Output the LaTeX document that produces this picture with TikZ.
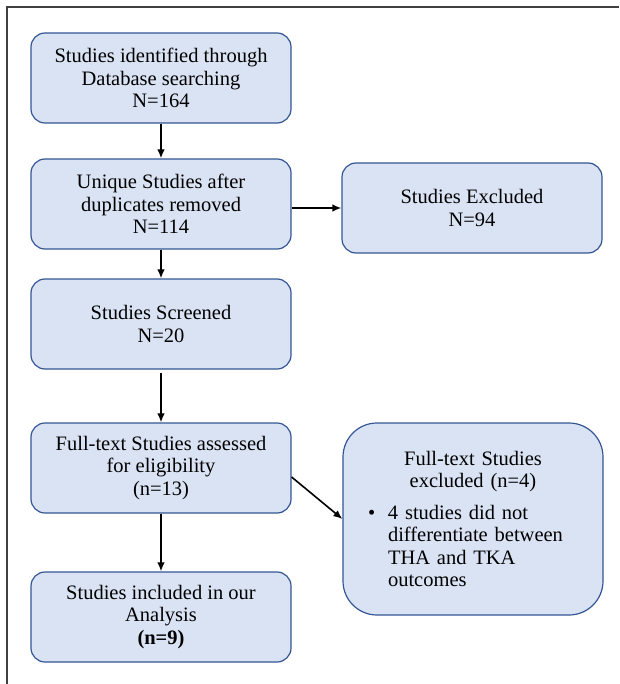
\documentclass[tikz,border=0pt]{standalone}
\usepackage{fontspec}
\setmainfont{Liberation Serif}
\usetikzlibrary{positioning,arrows.meta}

\definecolor{boxfill}{RGB}{218,227,243}
\definecolor{boxline}{RGB}{52,86,148}

\begin{document}
\begin{tikzpicture}[x=1pt, y=-1pt, >={Latex[length=9pt,width=7.5pt]},
        box/.style={draw=boxline, fill=boxfill, line width=1.2pt,
                    rounded corners=14pt, align=center,
                    minimum width=260pt, minimum height=90pt,
                    font=\fontsize{20.5}{22.5}\selectfont},
        flow/.style={->, line width=1.6pt}]
    \useasboundingbox (0,0) rectangle (619,684);
    % frame
    \draw[black!75, line width=1.5pt] (7,684) -- (7,7) -- (619,7);

    \node[box] (ident) at (161,78)  {Studies identified through\\Database searching\\N=164};
    \node[box] (uniq)  at (161,204) {Unique Studies after\\duplicates removed\\N=114};
    \node[box] (excl)  at (472,208) {Studies Excluded\\N=94};
    \node[box] (scr)   at (161,324) {Studies Screened\\N=20};
    \node[box] (full)  at (161,468) {Full-text Studies assessed\\for eligibility\\(n=13)};
    \node[box, rounded corners=34pt, minimum height=192pt,
          text width=210pt, inner xsep=25pt, align=left]
        (ftexcl) at (473,519)
        {{\centering Full-text Studies\\excluded (n=4)\par}
         \vspace{9pt}
         {\leftskip=20pt\noindent\hspace*{-20pt}\makebox[20pt][l]{\textbullet}4 studies did not\\
          differentiate between\\THA and TKA\\outcomes\par}};
    \node[box] (incl)  at (161,617) {Studies included in our\\Analysis\\\textbf{(n=9)}};

    \draw[flow] (ident) -- (uniq);
    \draw[flow] (uniq.east |- excl.west) -- (excl.west);
    \draw[flow] (uniq) -- (scr);
    \draw[flow] ([yshift=-3pt]scr.south) -- (full.north);
    \draw[flow] ([yshift=-9pt]full.east) -- (ftexcl.west);
    \draw[flow] (full) -- (incl);
\end{tikzpicture}
\end{document}
